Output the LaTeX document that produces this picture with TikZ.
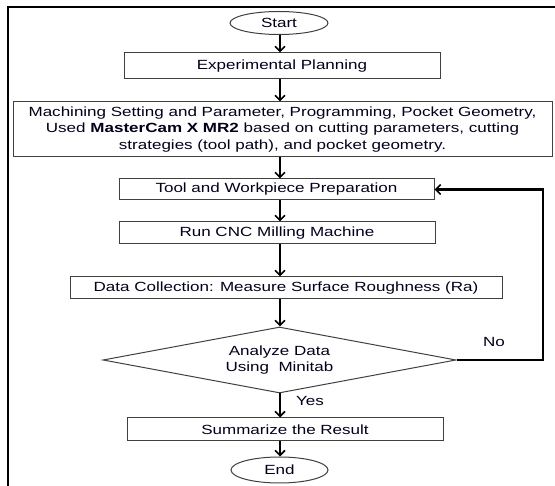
\documentclass[tikz,border=0pt]{standalone}
\usepackage{fontspec}
\setmainfont{Liberation Sans}[FakeStretch=1.28]
\usetikzlibrary{shapes.geometric,arrows.meta}
\begin{document}
\begin{tikzpicture}[x=1pt,y=-1pt,
  every node/.style={font=\fontsize{13.3}{16.5}\selectfont, text=black!90!blue, inner sep=0pt},
  procbox/.style={draw=black!75, line width=1pt, rectangle},
  term/.style={draw=black!75, line width=1pt, ellipse},
  arr/.style={line width=2.2pt, -{Straight Barb[length=5pt,width=10pt,line width=1.6pt]}},
  flow/.style={line width=2.2pt}]
\useasboundingbox (0,0) rectangle (555,486);
\draw[line width=1.3pt] (555,7) -- (8,7) -- (8,486);
\coordinate (col) at (280,0);
\node[term, minimum width=98pt, minimum height=23pt] (start) at (279,23) {Start};
\node[procbox, minimum width=316pt, minimum height=26pt] (exp) at (282,66) {Experimental Planning};
\node[procbox, minimum width=539pt, minimum height=55pt, align=center] (mach) at (282.5,129.5)
  {Machining Setting and Parameter, Programming, Pocket Geometry,\\
   Used \textbf{MasterCam X MR2} based on cutting parameters, cutting\\
   strategies (tool path), and pocket geometry.};
\node[procbox, minimum width=315pt, minimum height=21pt] (tool) at (276.5,189.5) {Tool and Workpiece Preparation};
\node[procbox, minimum width=316pt, minimum height=22pt] (run) at (277,233) {Run CNC Milling Machine};
\node[procbox, minimum width=432pt, minimum height=22pt] (data) at (286,288) {Data Collection: Measure Surface Roughness (Ra)};
\node[diamond, draw=black!75, line width=1pt, aspect=5.35, minimum width=353pt, minimum height=66pt, align=center] (dec) at (279.5,360)
  {Analyze Data\\Using\ \ Minitab};
\node[procbox, minimum width=316pt, minimum height=23pt] (sum) at (285,429.5) {Summarize the Result};
\node[term, minimum width=97pt, minimum height=26pt] (end) at (279.5,470) {End};
\node (yes) at (310,401) {Yes};
\node (no) at (494,342) {No};
\coordinate (fbx) at (543,0);
\draw[arr] (start.south -| col) -- (exp.north -| col);
\draw[arr] (exp.south -| col) -- (mach.north -| col);
\draw[arr] (mach.south -| col) -- (tool.north -| col);
\draw[arr] (tool.south -| col) -- (run.north -| col);
\draw[arr] (run.south -| col) -- (data.north -| col);
\draw[arr] (data.south -| col) -- (dec.north -| col);
\draw[arr] (dec.south -| col) -- (sum.north -| col);
\draw[arr] (sum.south -| col) -- (end.north -| col);
\draw[arr] (dec.east) -- (dec.east -| fbx) -- (tool.east -| fbx) -- (tool.east);
\end{tikzpicture}
\end{document}
